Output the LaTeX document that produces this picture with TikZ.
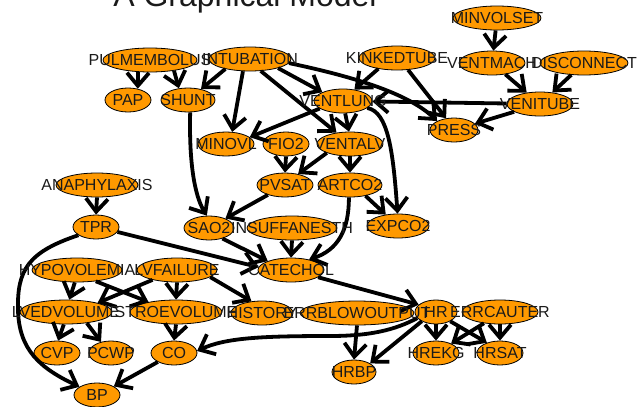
\documentclass[tikz,border=0pt]{standalone}
\usepackage{fontspec}
\setmainfont{Liberation Sans}
\usetikzlibrary{shapes.geometric,arrows.meta}
\definecolor{vfill}{HTML}{FF9900}
\definecolor{ink}{HTML}{1A1A1A}
\tikzset{
  vnode/.style={ellipse, draw=black, line width=0.8pt, fill=vfill,
    minimum height=24pt, inner sep=0pt},
  vlabel/.style={font=\fontsize{16}{16}\selectfont, text=ink, inner sep=0pt},
  link/.style={line width=3.8pt, draw=black,
    -{Straight Barb[length=13pt,width=22pt]}},
}
\begin{document}
\begin{tikzpicture}[x=1pt,y=-1pt]
\useasboundingbox (0,0) rectangle (640,407);
\begin{scope}
\clip (0,0) rectangle (640,407);
\node[anchor=base, font=\fontsize{32}{32}\selectfont, text=ink, inner sep=0pt]
  (title) at (245,6.5) {A Graphical Model};
\end{scope}

% variables (ellipses)
\node[vnode, minimum width=88pt] (minvolset) at (497,18) {};
\node[vnode, minimum width=66pt] (ventmach) at (492,63) {};
\node[vnode, minimum width=88pt] (disconnect) at (584,63) {};
\node[vnode, minimum width=76pt] (kinkedtube) at (397,58) {};
\node[vnode, minimum width=66pt] (venitube) at (540,104) {};
\node[vnode, minimum width=48pt] (press) at (454,130) {};
\node[vnode, minimum width=58pt] (ventlung) at (343,101) {};
\node[vnode, minimum width=82pt] (intubation) at (250,59) {};
\node[vnode, minimum width=94pt] (pulmembolus) at (150,60) {};
\node[vnode, minimum width=46pt] (pap) at (128,100) {};
\node[vnode, minimum width=54pt] (shunt) at (188,100) {};
\node[vnode, minimum width=56pt] (minovl) at (226,144) {};
\node[vnode, minimum width=46pt] (fio2) at (286,144) {};
\node[vnode, minimum width=66pt] (ventalv) at (350,144) {};
\node[vnode, minimum width=56pt] (pvsat) at (285,185) {};
\node[vnode, minimum width=64pt] (artco2) at (350,185) {};
\node[vnode, minimum width=50pt] (sao2) at (209,228) {};
\node[vnode, minimum width=90pt] (insuffanesth) at (292,228) {};
\node[vnode, minimum width=62pt] (expco2) at (398,226) {};
\node[vnode, minimum width=66pt] (catechol) at (291,270) {};
\node[vnode, minimum width=82pt] (anaphylaxis) at (97,185) {};
\node[vnode, minimum width=46pt] (tpr) at (96,227) {};
\node[vnode, minimum width=90pt] (hypovolemia) at (77,270) {};
\node[vnode, minimum width=80pt] (lvfailure) at (177,270) {};
\node[vnode, minimum width=92pt] (lvedvolume) at (66,312) {};
\node[vnode, minimum width=92pt] (stroevolume) at (176,312) {};
\node[vnode, minimum width=62pt] (history) at (262,313) {};
\node[vnode, minimum width=114pt] (errblowoutput) at (357,313) {};
\node[vnode, minimum width=42pt] (hr) at (436,312) {};
\node[vnode, minimum width=76pt] (errcauter) at (500,312) {};
\node[vnode, minimum width=46pt] (hrekg) at (436,353) {};
\node[vnode, minimum width=46pt] (hrsat) at (500,353) {};
\node[vnode, minimum width=44pt] (hrbp) at (354,372) {};
\node[vnode, minimum width=46pt] (cvp) at (57,353) {};
\node[vnode, minimum width=44pt] (pcwp) at (111,353) {};
\node[vnode, minimum width=46pt] (co) at (174,353) {};
\node[vnode, minimum width=46pt] (bp) at (97,395) {};

% dependencies
\draw[link] (minvolset) -- (ventmach);
\draw[link] (ventmach) -- (venitube);
\draw[link] (disconnect) -- (venitube);
\draw[link] (venitube) -- (press);
\draw[link] (venitube) -- (ventlung);
\draw[link] (intubation.-6) .. controls (360,78) and (410,95) .. (press.152);
\draw[link] (kinkedtube.-47) -- (press.124);
\draw[link] (kinkedtube.-150) -- (ventlung.45);
\draw[link] (intubation.-18) -- (ventlung.157);
\draw[link] (intubation.-48) -- (ventalv.140);
\draw[link] (intubation.-120) -- (minovl.63);
\draw[link] (intubation.-158) -- (shunt.40);
\draw[link] (pulmembolus.-135) -- (pap.49);
\draw[link] (pulmembolus.-24) -- (shunt.128);
\draw[link] (ventlung.-162) -- (minovl.16);
\draw[link] (ventlung.-80) -- (ventalv.95);
\draw[link] (ventlung.-16) .. controls (388,112) and (393,150) .. (expco2.92);
\draw[link] (ventalv.-159) -- (pvsat.40);
\draw[link] (ventalv.south) -- (artco2.north);
\draw[link] (fio2.south) -- (pvsat.north);
\draw[link] (pvsat.-150) -- (sao2.30);
\draw[link] (shunt.-80) .. controls (189,160) and (194,195) .. (sao2.100);
\draw[link] (artco2.-35) -- (expco2.137);
\draw[link] (artco2.-95) .. controls (349,230) and (338,250) .. (catechol.30);
\draw[link] (sao2.-38) -- (catechol.159);
\draw[link] (insuffanesth.south) -- (catechol.north);
\draw[link] (tpr.-13) -- (catechol.175);
\draw[link] (anaphylaxis.south) -- (tpr.north);
\draw[link] (tpr.-155) .. controls (28,252) and (17,270) .. (18,310)
  .. controls (19,350) and (40,368) .. (bp.155);
\draw[link] (hypovolemia.-100) -- (lvedvolume.75);
\draw[link] (hypovolemia.-31) -- (stroevolume.160);
\draw[link] (lvfailure.south) -- (stroevolume.north);
\draw[link] (lvfailure.-158) -- (lvedvolume.16);
\draw[link] (lvfailure.-12) -- (history.132);
\draw[link] (lvedvolume.-100) -- (cvp.85);
\draw[link] (lvedvolume.-28) -- (pcwp.132);
\draw[link] (stroevolume.south) -- (co.north);
\draw[link] (co.-151) -- (bp.27);
\draw[link] (catechol.-15) -- (hr.157);
\draw[link] (hr.-162) .. controls (395,330) and (370,336) .. (330,336)
  .. controls (260,336) and (225,338) .. (co.5);
\draw[link] (errblowoutput.south) -- (hrbp.north);
\draw[link] (hr.-147) -- (hrbp.28);
\draw[link] (hr.south) -- (hrekg.north);
\draw[link] (hr.-33) -- (hrsat.142);
\draw[link] (errcauter.-145) -- (hrekg.32);
\draw[link] (errcauter.south) -- (hrsat.north);

% names, set above everything else
\foreach \n/\t in {minvolset/MINVOLSET, ventmach/VENTMACH, disconnect/DISCONNECT,
  kinkedtube/KINKEDTUBE, venitube/VENITUBE, press/PRESS, ventlung/VENTLUNG,
  intubation/INTUBATION, pulmembolus/PULMEMBOLUS, pap/PAP, shunt/SHUNT,
  minovl/MINOVL, fio2/FIO2, ventalv/VENTALV, pvsat/PVSAT, artco2/ARTCO2,
  sao2/SAO2, insuffanesth/INSUFFANESTH, expco2/EXPCO2, catechol/CATECHOL,
  anaphylaxis/ANAPHYLAXIS, tpr/TPR, hypovolemia/HYPOVOLEMIA,
  lvfailure/LVFAILURE, lvedvolume/LVEDVOLUME, stroevolume/STROEVOLUME,
  history/HISTORY, errblowoutput/ERRBLOWOUTPUT, hr/HR, errcauter/ERRCAUTER,
  hrekg/HREKG, hrsat/HRSAT, hrbp/HRBP, cvp/CVP, pcwp/PCWP, co/CO, bp/BP}
  \node[vlabel] (\n-name) at (\n.center) {\t};
\end{tikzpicture}
\end{document}
